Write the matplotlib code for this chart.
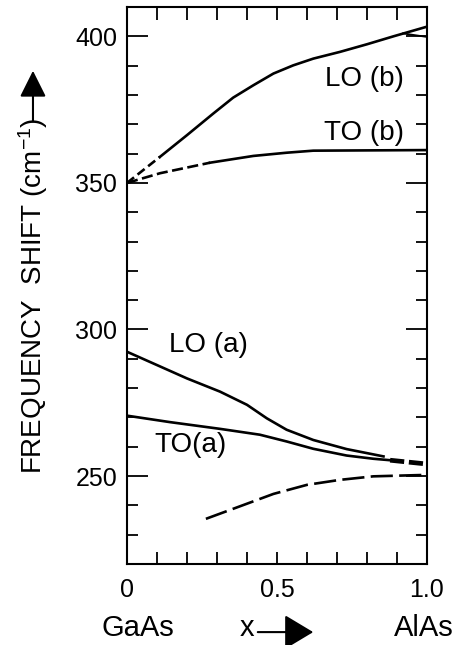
import numpy as np
import matplotlib
matplotlib.use("Agg")
import matplotlib.pyplot as plt
from matplotlib.ticker import MultipleLocator

plt.rcParams['font.family'] = ['Liberation Sans', 'DejaVu Sans']
plt.rcParams['mathtext.default'] = 'regular'

# curves (x = Al fraction, y = cm^-1)
lo_b_x = [0, 0.11, 0.2, 0.288, 0.354, 0.421, 0.488, 0.554, 0.621, 0.71, 0.8, 0.888, 1.0]
lo_b_y = [350, 358.9, 366.3, 373.7, 379.1, 383.3, 387.3, 390.1, 392.4, 394.7, 397.3, 400.0, 403.3]
lo_b_dash = 2          # first points drawn dashed

to_b_x = [0, 0.11, 0.277, 0.421, 0.532, 0.621, 1.0]
to_b_y = [350, 353.3, 356.9, 359.2, 360.3, 361.0, 361.2]
to_b_dash = 3

branch_x = [0.92, 1.0]
branch_y = [401.0, 399.8]

lo_a_x = [0, 0.088, 0.2, 0.31, 0.4, 0.466, 0.532, 0.621, 0.732, 0.855]
lo_a_y = [292.4, 288.4, 283.3, 278.8, 274.3, 269.7, 265.8, 262.3, 259.2, 256.7]

to_a_x = [0, 0.143, 0.31, 0.443, 0.532, 0.621, 0.732, 0.821, 0.877, 1.0]
to_a_y = [270.6, 268.4, 266.1, 264.1, 261.8, 259.3, 257.0, 255.9, 255.4, 254.1]
to_a_solid = 9

low_x = [0.263, 0.377, 0.488, 0.6, 0.71, 0.821, 1.0]
low_y = [235.4, 239.7, 243.9, 247.0, 248.7, 249.9, 250.4]

labels = ["LO (b)", "TO (b)", "LO (a)", "TO(a)"]
label_x = [0.79, 0.79, 0.273, 0.21]
label_y = [385.6, 366.9, 294.7, 260.7]

fig = plt.figure(figsize=(4.58, 6.45), dpi=100)
ax = fig.add_axes([0.2773, 0.1256, 0.655, 0.8635])

lw = 1.9
k = 'black'
# LO(b)
ax.plot(lo_b_x[:lo_b_dash], lo_b_y[:lo_b_dash], color=k, lw=lw, dashes=(3.4, 1.7))
ax.plot(lo_b_x[lo_b_dash - 1:], lo_b_y[lo_b_dash - 1:], color=k, lw=lw)
ax.plot(branch_x, branch_y, color=k, lw=1.3)
# TO(b)
ax.plot(to_b_x[:to_b_dash], to_b_y[:to_b_dash], color=k, lw=lw, dashes=(4.2, 1.7))
ax.plot(to_b_x[to_b_dash - 1:], to_b_y[to_b_dash - 1:], color=k, lw=lw)
# LO(a), TO(a)
ax.plot(lo_a_x, lo_a_y, color=k, lw=lw)
ax.plot(to_a_x[:to_a_solid], to_a_y[:to_a_solid], color=k, lw=lw)
ax.plot(to_a_x[to_a_solid - 1:], to_a_y[to_a_solid - 1:], color=k, lw=3.4, dashes=(3, 1))
# lower dashed branch
ax.plot(low_x, low_y, color=k, lw=lw, dashes=(8.4, 2.4))

for s, x, y in zip(labels, label_x, label_y):
    ax.text(x, y, s, fontsize=20, ha='center', va='center')

ax.set_xlim(0, 1.0)
ax.set_ylim(220, 410)
ax.set_xticks([0, 0.5, 1.0])
ax.set_xticklabels(['0', '0.5', '1.0'])
ax.xaxis.set_minor_locator(MultipleLocator(0.1))
ax.set_yticks([250, 300, 350, 400])
ax.yaxis.set_minor_locator(MultipleLocator(10))
ax.tick_params(axis='both', which='both', direction='in', top=True, right=True,
               labelsize=18, width=1.3, color=k)
ax.tick_params(axis='y', which='major', length=15, pad=7)
ax.tick_params(axis='y', which='minor', length=8)
ax.tick_params(axis='x', which='both', length=9, pad=10)
for sp in ax.spines.values():
    sp.set_linewidth(1.5)

# y label with arrow
fig.text(0.072, 0.541, 'FREQUENCY  SHIFT (cm$^{-1}$)', rotation=90,
         fontsize=20, ha='center', va='center')
fig.patches.append(matplotlib.patches.FancyArrowPatch(
    (0.072, 1 - 124 / 645), (0.072, 1 - 68 / 645), transform=fig.transFigure,
    arrowstyle='-|>,head_length=0.9,head_width=0.45', mutation_scale=18,
    color=k, lw=1.5))

# bottom labels
fig.text(0.300, 0.026, 'GaAs', fontsize=21, ha='center', va='center')
fig.text(0.539, 0.026, 'x', fontsize=21, ha='center', va='center')
fig.patches.append(matplotlib.patches.FancyArrowPatch(
    (255 / 458, 0.020), (316 / 458, 0.020), transform=fig.transFigure,
    arrowstyle='-|>,head_length=1.0,head_width=0.6', mutation_scale=18,
    color=k, lw=1.5))
fig.text(0.926, 0.026, 'AlAs', fontsize=21, ha='center', va='center')

fig.savefig('out.png', dpi=100)
